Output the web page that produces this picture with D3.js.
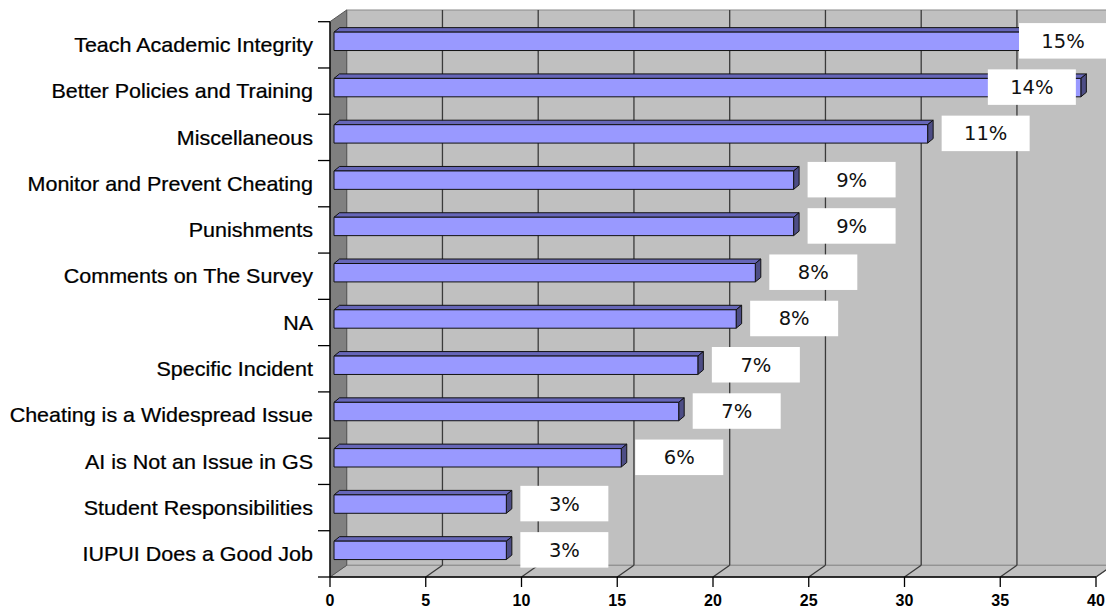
<!DOCTYPE html>
<html><head><meta charset="utf-8">
<script src="https://cdn.jsdelivr.net/npm/d3@7"></script>
<style>html,body{margin:0;padding:0;background:#fff;}svg{display:block;}</style>
</head><body>
<script>
const categories = ["Teach Academic Integrity","Better Policies and Training","Miscellaneous","Monitor and Prevent Cheating","Punishments","Comments on The Survey","NA","Specific Incident","Cheating is a Widespread Issue","AI is Not an Issue in GS","Student Responsibilities","IUPUI Does a Good Job"];
const counts = [41,39,31,24,24,22,21,19,18,15,9,9];
const percentLabels = ["15%","14%","11%","9%","9%","8%","8%","7%","7%","6%","3%","3%"];
const xTicks = [0,5,10,15,20,25,30,35,40];

const W = 1106, H = 608;
const svg = d3.select("body").append("svg").attr("width", W).attr("height", H);

const x = d3.scaleLinear().domain([0,40]).range([330,1096]);
const y = d3.scaleBand().domain(categories).range([21.7,577]).padding(0);
const DX = 16.7, DY = -11.7;           // wall depth
const bOX = 4, bOY = -3.5, bH = 18.4;  // bar front plane
const bDX = 5.5, bDY = -4.5;           // bar depth
const x0 = x(0), yBot = 577, yTop = 21.7;

// back wall
svg.append("rect").attr("x", x0+DX).attr("y", yTop+DY)
  .attr("width", x(40)-x0+2).attr("height", yBot-yTop)
  .attr("fill","#c0c0c0").attr("stroke","#8a8a8a").attr("stroke-width",1);
// floor
svg.append("polygon").attr("points", [[x0,yBot],[x(40),yBot],[x(40)+DX,yBot+DY],[x0+DX,yBot+DY]].map(p=>p.join(",")).join(" "))
  .attr("fill","#c0c0c0").attr("stroke","#8a8a8a").attr("stroke-width",1);
// left wall
svg.append("polygon").attr("points", [[x0,yTop],[x0+DX,yTop+DY],[x0+DX,yBot+DY],[x0,yBot]].map(p=>p.join(",")).join(" "))
  .attr("fill","#808080").attr("stroke","#555").attr("stroke-width",1);

// gridlines on back wall and floor
const grid = svg.append("g").attr("stroke","#3a3a3a").attr("stroke-width",1.3);
xTicks.filter(v=>v>0).forEach(v=>{
  grid.append("line").attr("x1",x(v)+DX).attr("x2",x(v)+DX).attr("y1",yTop+DY).attr("y2",yBot+DY);
  grid.append("line").attr("x1",x(v)).attr("x2",x(v)+DX).attr("y1",yBot).attr("y2",yBot+DY);
});

// bars
const bars = svg.append("g");
categories.forEach((c,i)=>{
  const v = counts[i];
  const xl = x(0)+bOX, xr = x(v)+bOX;
  const yt = y(c)+y.bandwidth()/2 + bOY - bH/2, yb = yt + bH;
  const g = bars.append("g").attr("stroke","#111").attr("stroke-width",1).attr("stroke-linejoin","round");
  g.append("polygon").attr("points",[[xl,yt],[xl+bDX,yt+bDY],[xr+bDX,yt+bDY],[xr,yt]].map(p=>p.join(",")).join(" "))
    .attr("fill","#6666b8");
  g.append("polygon").attr("points",[[xr,yt],[xr+bDX,yt+bDY],[xr+bDX,yb+bDY],[xr,yb]].map(p=>p.join(",")).join(" "))
    .attr("fill","#4d4d85");
  g.append("rect").attr("x",xl).attr("y",yt).attr("width",xr-xl).attr("height",bH).attr("fill","#9999ff");
});

// axes lines
svg.append("line").attr("x1",x0).attr("x2",x0).attr("y1",yTop).attr("y2",yBot).attr("stroke","#000").attr("stroke-width",1.3);
svg.append("line").attr("x1",x0).attr("x2",x(40)).attr("y1",yBot).attr("y2",yBot).attr("stroke","#000").attr("stroke-width",1.3);

// category ticks
const bounds = categories.map(c=>y(c)).concat([yBot]);
svg.append("g").selectAll("line").data(bounds).join("line")
  .attr("x1",318).attr("x2",x0).attr("y1",d=>d).attr("y2",d=>d).attr("stroke","#000").attr("stroke-width",1.3);
// x ticks
svg.append("g").selectAll("line").data(xTicks).join("line")
  .attr("x1",d=>x(d)).attr("x2",d=>x(d)).attr("y1",yBot).attr("y2",yBot+10).attr("stroke","#000").attr("stroke-width",1.3);
svg.append("g").selectAll("text").data(xTicks).join("text")
  .attr("x",d=>x(d)).attr("y",606).attr("text-anchor","middle")
  .attr("font-family","'Liberation Sans', Arial, sans-serif").attr("font-weight","bold").attr("font-size",16)
  .text(d=>d);

// category labels
svg.append("g").selectAll("text").data(categories).join("text")
  .attr("transform",d=>`translate(313,${y(d)+y.bandwidth()/2+7.2}) scale(1.075,1)`)
  .attr("text-anchor","end")
  .attr("font-family","'Liberation Sans', Arial, sans-serif").attr("font-size",20).attr("fill","#000")
  .attr("stroke","#000").attr("stroke-width",0.25)
  .text(d=>d);

// data labels
const BW = 88, BH = 35.5;
const lab = svg.append("g");
categories.forEach((c,i)=>{
  const end = x(counts[i])+bOX;
  let left = end + 14;
  if (left + BW > W) left = Math.min(end - 93, W - 87);
  const cy = y(c)+y.bandwidth()/2 - 4;
  lab.append("rect").attr("x",left).attr("y",cy-BH/2).attr("width",BW).attr("height",BH).attr("fill","#fff");
  lab.append("text").attr("x",left+BW/2).attr("y",cy+7).attr("text-anchor","middle")
    .attr("font-family","'DejaVu Sans', Verdana, sans-serif").attr("font-size",19.5).attr("fill","#111")
    .text(percentLabels[i]);
});
</script>
</body></html>
